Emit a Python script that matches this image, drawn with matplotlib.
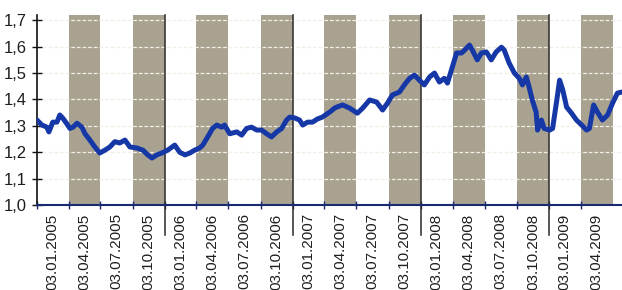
import matplotlib
matplotlib.use("Agg")
import matplotlib.pyplot as plt
import matplotlib.transforms as mtransforms
from matplotlib.lines import Line2D
import pandas as pd

# ---------------- data ----------------
dates = [
    "2005-01-03", "2005-01-17", "2005-01-31", "2005-02-06", "2005-02-17", "2005-03-01",
    "2005-03-09", "2005-03-17", "2005-03-28", "2005-04-07", "2005-04-16", "2005-04-27",
    "2005-05-11", "2005-05-20", "2005-06-03", "2005-06-17", "2005-07-01", "2005-07-16",
    "2005-07-30", "2005-08-13", "2005-08-27", "2005-09-11", "2005-09-25", "2005-10-15",
    "2005-11-01", "2005-11-15", "2005-11-27", "2005-12-11", "2005-12-25",
    "2006-01-11", "2006-01-31", "2006-02-14", "2006-03-01", "2006-03-15", "2006-03-29",
    "2006-04-12", "2006-04-21", "2006-05-05", "2006-05-19", "2006-05-31", "2006-06-14",
    "2006-06-22", "2006-07-07", "2006-07-27", "2006-08-10", "2006-08-24", "2006-09-07",
    "2006-09-22", "2006-10-06", "2006-10-20", "2006-11-03", "2006-11-18", "2006-12-02",
    "2006-12-16", "2006-12-25",
    "2007-01-08", "2007-01-22", "2007-01-31", "2007-02-14", "2007-02-28", "2007-03-14",
    "2007-03-28", "2007-04-18", "2007-05-02", "2007-05-08", "2007-05-25", "2007-06-14",
    "2007-07-06", "2007-07-21", "2007-08-10", "2007-08-30", "2007-09-16", "2007-09-30",
    "2007-10-14", "2007-11-03", "2007-11-17", "2007-12-02", "2007-12-16", "2007-12-30",
    "2008-01-13", "2008-01-28", "2008-02-11", "2008-02-25", "2008-03-10", "2008-03-19",
    "2008-04-02", "2008-04-14", "2008-04-28", "2008-05-07", "2008-05-21", "2008-05-29",
    "2008-06-12", "2008-06-24", "2008-07-08", "2008-07-22", "2008-08-05", "2008-08-20",
    "2008-08-28", "2008-09-11", "2008-09-26", "2008-10-10", "2008-10-19", "2008-10-30",
    "2008-11-07", "2008-11-16", "2008-11-27", "2008-12-01", "2008-12-12", "2008-12-20",
    "2009-01-05", "2009-01-13", "2009-01-25", "2009-02-02", "2009-02-11", "2009-02-22",
    "2009-03-08", "2009-03-22", "2009-04-06", "2009-04-20", "2009-04-28", "2009-05-10",
    "2009-05-21", "2009-06-04", "2009-06-19", "2009-07-03", "2009-07-17", "2009-07-29",
]
values = [
    1.322, 1.303, 1.295, 1.277, 1.314, 1.314,
    1.341, 1.330, 1.310, 1.290, 1.295, 1.310,
    1.295, 1.270, 1.246, 1.220, 1.197, 1.208,
    1.220, 1.240, 1.235, 1.246, 1.220, 1.216,
    1.208, 1.190, 1.178, 1.190, 1.197,
    1.208, 1.227, 1.200, 1.190, 1.197, 1.208,
    1.216, 1.227, 1.258, 1.290, 1.303, 1.295,
    1.303, 1.270, 1.277, 1.265, 1.290, 1.295,
    1.284, 1.284, 1.270, 1.258, 1.277, 1.290,
    1.322, 1.333,
    1.330, 1.322, 1.303, 1.314, 1.314, 1.326,
    1.333, 1.352, 1.367, 1.371, 1.379, 1.367,
    1.348, 1.367, 1.398, 1.390, 1.360, 1.386,
    1.417, 1.428, 1.455, 1.480, 1.492, 1.473,
    1.455, 1.485, 1.500, 1.466, 1.480, 1.462,
    1.523, 1.576, 1.576, 1.587, 1.606, 1.587,
    1.550, 1.576, 1.580, 1.550, 1.580, 1.598,
    1.587, 1.538, 1.500, 1.480, 1.455, 1.485,
    1.447, 1.398, 1.352, 1.284, 1.322, 1.290,
    1.284, 1.290, 1.398, 1.473, 1.436, 1.371,
    1.348, 1.322, 1.303, 1.284, 1.290, 1.379,
    1.352, 1.322, 1.341, 1.386, 1.424, 1.428,
]
tick_labels = [
    "03.01.2005", "03.04.2005", "03.07.2005", "03.10.2005",
    "03.01.2006", "03.04.2006", "03.07.2006", "03.10.2006",
    "03.01.2007", "03.04.2007", "03.07.2007", "03.10.2007",
    "03.01.2008", "03.04.2008", "03.07.2008", "03.10.2008",
    "03.01.2009", "03.04.2009",
]
period_end = "03.07.2009"
x_end = "2009-07-30"
y_ticks = [1.0, 1.1, 1.2, 1.3, 1.4, 1.5, 1.6, 1.7]
y_tick_labels = ["1,0", "1,1", "1,2", "1,3", "1,4", "1,5", "1,6", "1,7"]

# ---------------- style ----------------
plt.rcParams['font.family'] = ['Liberation Sans', 'DejaVu Sans']
band_color = "#a9a291"
line_color = "#1638a6"
text_color = "#1e1e1e"

W, H = 622, 290
fig = plt.figure(figsize=(W / 100, H / 100), dpi=100)
fig.patch.set_facecolor("white")
ax_left, ax_bottom_px, ax_top_px = 37, 205, 15
ax = fig.add_axes([ax_left / W, 1 - ax_bottom_px / H,
                   (W - ax_left) / W, (ax_bottom_px - ax_top_px) / H])

x = pd.to_datetime(dates)
bounds = pd.to_datetime(tick_labels + [period_end], format="%d.%m.%Y")
mids = [bounds[i] + (bounds[i + 1] - bounds[i]) / 2 for i in range(len(tick_labels))]

# shaded quarters (Q2 and Q4)
for i in range(len(tick_labels)):
    if bounds[i].month in (4, 10):
        ax.axvspan(bounds[i], bounds[i + 1], color=band_color, lw=0, zorder=0)

# white dashed grid (only visible on the bands)
for yv in y_ticks[1:]:
    ax.axhline(yv, color="#f2efe6", lw=0.9, ls=(0, (3, 1.5)), zorder=1)

# year separator lines extending below the axis
trans = mtransforms.blended_transform_factory(ax.transData, ax.transAxes)
for b in bounds:
    if b.month == 1 and b != bounds[0]:
        ax.add_line(Line2D([b, b], [1.0, -0.16], transform=trans, color="#2a2a2a",
                           lw=1.1, clip_on=False, zorder=2))

ax.plot(x, values, color=line_color, lw=3.6, solid_joinstyle="round",
        solid_capstyle="round", zorder=3, clip_on=True)

ax.set_xlim(bounds[0], pd.Timestamp(x_end))
ax.set_ylim(1.0, 1.72)

# x ticks: marks at quarter starts, labels centred in each quarter
ax.set_xticks(bounds[:-1])
ax.set_xticklabels([])
ax.set_xticks(mids, minor=True)
ax.set_xticklabels(tick_labels, minor=True, rotation=90, fontsize=11, color=text_color)
ax.tick_params(axis="x", which="major", direction="inout", length=6, width=1.0,
               color="#1a2a6e")
ax.tick_params(axis="x", which="minor", length=0, pad=6)

ax.set_yticks(y_ticks)
ax.set_yticklabels(y_tick_labels, fontsize=12, color=text_color)
ax.tick_params(axis="y", direction="inout", length=7, width=1.0, color="#111111", pad=4)

for s in ("top", "right"):
    ax.spines[s].set_visible(False)
ax.spines["left"].set_color("#111111")
ax.spines["left"].set_linewidth(1.2)
ax.spines["bottom"].set_color("#1a2a6e")
ax.spines["bottom"].set_linewidth(1.5)
ax.set_facecolor("white")

fig.savefig("out.png", dpi=100, facecolor="white")
